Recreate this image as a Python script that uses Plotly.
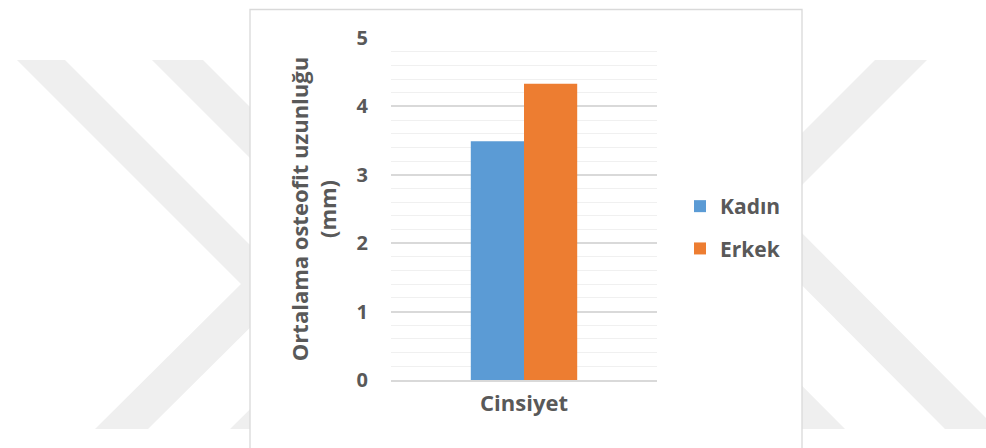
import plotly.graph_objects as go

# Data
categories = ["Cinsiyet"]
series_names = ["Kadın", "Erkek"]
kadin_values = [3.49]
erkek_values = [4.33]
series_colors = ["#5b9bd5", "#ed7d31"]
y_tick_values = [0, 1, 2, 3, 4, 5]

# Layout geometry (pixels)
FIG_W, FIG_H = 986, 448
PLOT_L, PLOT_R, PLOT_T, PLOT_B = 391, 657, 38, 380
PW = PLOT_R - PLOT_L
PH = PLOT_B - PLOT_T

def fx(x):
    return (x - PLOT_L) / PW

def fy(y):
    return (PLOT_B - y) / PH

def poly_path(points):
    pts = [f"{fx(x):.5f},{fy(y):.5f}" for x, y in points]
    return "M" + " L".join(pts) + " Z"

TEXT = "#595959"
FONT = "Open Sans"

fig = go.Figure()
for name, vals, col in zip(series_names, [kadin_values, erkek_values], series_colors):
    fig.add_trace(go.Bar(
        x=categories, y=vals, name=name, legendgroup=name,
        marker=dict(color=col, line=dict(width=0)),
    ))

# faint background chevrons
WM = "#efefef"
chevrons = [
    [(17, 60), (65, 60), (291.5, 286.5), (148, 429), (95, 429), (241, 284)],
    [(152, 60), (203, 60), (427, 284), (281, 429), (230, 429), (376, 284)],
    [(875, 60), (927, 60), (778, 209), (997, 429), (945, 429), (726, 209)],
    [(723, 60), (775, 60), (626, 209), (845, 429), (793, 429), (574, 209)],
]
shapes = []
for pts in chevrons:
    shapes.append(dict(type="path", xref="paper", yref="paper", layer="below",
                       path=poly_path(pts), fillcolor=WM, line=dict(width=0)))
# chart frame
shapes.append(dict(type="rect", xref="paper", yref="paper", layer="below",
                   x0=fx(250), x1=fx(802), y0=fy(470), y1=fy(9.5),
                   fillcolor="white", line=dict(color="#d9d9d9", width=1.3)))

fig.update_layout(
    width=FIG_W, height=FIG_H,
    margin=dict(l=PLOT_L, r=FIG_W - PLOT_R, t=PLOT_T, b=FIG_H - PLOT_B, pad=0),
    paper_bgcolor="white", plot_bgcolor="rgba(0,0,0,0)",
    barmode="group", bargap=0.6, bargroupgap=0,
    font=dict(family=FONT, color=TEXT, size=20),
    shapes=shapes,
    showlegend=True,
    legend=dict(
        x=fx(680), xanchor="left", y=fy(186), yanchor="top",
        traceorder="grouped", tracegroupgap=12,
        font=dict(family=FONT, size=21, color=TEXT, weight="bold"),
        bgcolor="rgba(0,0,0,0)", borderwidth=0,
        itemclick=False,
    ),
    xaxis=dict(
        showgrid=False, showline=True, linecolor="#d9d9d9", linewidth=1.5,
        ticks="outside", ticklen=3, tickcolor="rgba(0,0,0,0)",
        tickfont=dict(family=FONT, size=22, color=TEXT, weight="bold"),
    ),
    yaxis=dict(
        range=[0, 5], tickvals=y_tick_values, showline=False, zeroline=False,
        gridcolor="#d9d9d9", gridwidth=1.5,
        minor=dict(dtick=0.2, showgrid=True, gridcolor="#f0f0f0", gridwidth=1.3),
        ticks="outside", ticklen=18, tickcolor="rgba(0,0,0,0)",
        tickfont=dict(family=FONT, size=20, color=TEXT, weight="bold"),
        title=dict(text="Ortalama osteofit uzunluğu<br>(mm)",
                   font=dict(family=FONT, size=22, color=TEXT, weight="bold"),
                   standoff=13),
    ),
)

fig.write_html("out.html")
